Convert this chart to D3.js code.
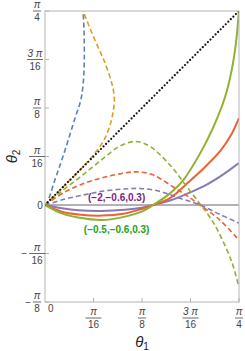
<!DOCTYPE html>
<html><head><meta charset="utf-8">
<script src="https://cdn.jsdelivr.net/npm/d3@7"></script>
<style>body{margin:0;background:#fff}svg{display:block}</style>
</head><body>
<script>
// ---- data (radians) ----
const blueDashX   = [0,0.008,0.040,0.068,0.094,0.122,0.145,0.155,0.159,0.158,0.154];
const blueDashY   = [0,0.008,0.101,0.182,0.263,0.353,0.425,0.495,0.587,0.709,0.785];
const orangeDashX = [0,0.069,0.142,0.202,0.243,0.267,0.277,0.281,0.278,0.270,0.243,0.202,0.154];
const orangeDashY = [0,0.069,0.142,0.210,0.271,0.336,0.385,0.421,0.457,0.494,0.575,0.668,0.785];
const greenDashX  = [0,0.069,0.142,0.223,0.304,0.368,0.425,0.506,0.574,0.631,0.675,0.702,0.756,0.785];
const greenDashY  = [0,0.057,0.113,0.178,0.239,0.257,0.237,0.162,0.074,0,-0.061,-0.108,-0.230,-0.332];
const redDashX    = [0,0.081,0.162,0.243,0.324,0.372,0.437,0.518,0.574,0.628,0.708,0.785];
const redDashY    = [0,0.053,0.089,0.113,0.130,0.134,0.122,0.074,0.038,0,-0.061,-0.142];
const purpleDashX = [0,0.081,0.162,0.243,0.324,0.385,0.466,0.547,0.628,0.708,0.785];
const purpleDashY = [0,0.024,0.042,0.057,0.065,0.067,0.055,0.027,0,-0.038,-0.073];
const greenSolidX = [0,0.068,0.135,0.230,0.324,0.391,0.438,0.506,0.560,0.628,0.681,0.729,0.756,0.773,0.785];
const greenSolidY = [0,-0.034,-0.051,-0.061,-0.047,-0.027,0,0.047,0.101,0.209,0.314,0.437,0.547,0.655,0.785];
const redSolidX   = [0,0.068,0.135,0.230,0.324,0.391,0.438,0.506,0.579,0.648,0.713,0.753,0.785];
const redSolidY   = [0,-0.027,-0.038,-0.043,-0.034,-0.016,0,0.028,0.091,0.154,0.223,0.283,0.352];
const purpleSolidX= [0,0.068,0.135,0.230,0.324,0.391,0.438,0.506,0.574,0.641,0.708,0.785];
const purpleSolidY= [0,-0.013,-0.021,-0.024,-0.019,-0.011,0,0.018,0.045,0.075,0.115,0.170];
const diagX = [0, Math.PI/4];
const diagY = [0, Math.PI/4];

const xTickVals = [Math.PI/16, Math.PI/8, 3*Math.PI/16, Math.PI/4];
const xTickNum  = ["π","π","3 π","π"];
const xTickDen  = ["16","8","16","4"];
const yTickVals = [-Math.PI/8, -Math.PI/16, Math.PI/16, Math.PI/8, 3*Math.PI/16, Math.PI/4];
const yTickSign = ["−","−","","","",""];
const yTickNum  = ["π","π","π","π","3 π","π"];
const yTickDen  = ["8","16","16","8","16","4"];

const labels = [
  {text:"(−2,−0.6,0.3)", x:0.290, y:0.018, color:"#7f1a86"},
  {text:"(−0.5,−0.6,0.3)", x:0.290, y:-0.112, color:"#22a322"}
];

// ---- drawing ----
const W=245,H=351;
const svg=d3.select("body").append("svg").attr("width",W).attr("height",H);
const x=d3.scaleLinear().domain([0,Math.PI/4]).range([45,239]);
const y=d3.scaleLinear().domain([-Math.PI/8,Math.PI/4]).range([302,11]);

svg.append("clipPath").attr("id","clip").append("rect")
  .attr("x",x(0)).attr("y",y(Math.PI/4)).attr("width",x(Math.PI/4)-x(0)).attr("height",y(-Math.PI/8)-y(Math.PI/4));

const frameC="#b3b3b3";
// zero line
svg.append("line").attr("x1",x(0)).attr("x2",x(Math.PI/4)).attr("y1",y(0)).attr("y2",y(0))
  .attr("stroke","#999").attr("stroke-width",1.3);

const line=d3.line().x(d=>x(d[0])).y(d=>y(d[1])).curve(d3.curveCatmullRom.alpha(0.5));
const g=svg.append("g").attr("clip-path","url(#clip)");
const series=[
  [purpleSolidX,purpleSolidY,"#8778b6",null,2],
  [redSolidX,redSolidY,"#eb6235",null,2],
  [greenSolidX,greenSolidY,"#8fb131",null,2],
  [purpleDashX,purpleDashY,"#8778b6","5,3",1.6],
  [redDashX,redDashY,"#eb6235","5,3",1.6],
  [greenDashX,greenDashY,"#8fb131","5,3",1.6],
  [blueDashX,blueDashY,"#5e81b5","5,3",1.6],
  [orangeDashX,orangeDashY,"#e19c24","5,3",1.6]
];
series.forEach(s=>{
  g.append("path").datum(d3.zip(s[0],s[1])).attr("d",line)
    .attr("fill","none").attr("stroke",s[2]).attr("stroke-width",s[4])
    .attr("stroke-dasharray",s[3]);
});
g.append("path").datum(d3.zip(diagX,diagY)).attr("d",d3.line().x(d=>x(d[0])).y(d=>y(d[1])))
  .attr("fill","none").attr("stroke","#111").attr("stroke-width",2.2)
  .attr("stroke-linecap","round").attr("stroke-dasharray","0,3.6");

// frame
svg.append("rect").attr("x",x(0)).attr("y",y(Math.PI/4)).attr("width",x(Math.PI/4)-x(0))
  .attr("height",y(-Math.PI/8)-y(Math.PI/4)).attr("fill","none").attr("stroke",frameC).attr("stroke-width",1);

// ticks
const tc="#444", ff="Liberation Sans, Arial, sans-serif";
xTickVals.forEach((v,i)=>{
  const px=x(v);
  svg.append("line").attr("x1",px).attr("x2",px).attr("y1",y(-Math.PI/8)).attr("y2",y(-Math.PI/8)-4).attr("stroke",frameC);
  svg.append("text").attr("x",px).attr("y",315).attr("text-anchor","middle").attr("font-family",ff)
    .attr("font-size",10).attr("fill",tc).attr("font-style","italic").text(xTickNum[i]);
  const w = xTickDen[i].length>1 || xTickNum[i].length>1 ? 16 : 8;
  svg.append("line").attr("x1",px-w/2).attr("x2",px+w/2).attr("y1",318).attr("y2",318).attr("stroke",tc).attr("stroke-width",0.8);
  svg.append("text").attr("x",px).attr("y",328).attr("text-anchor","middle").attr("font-family",ff)
    .attr("font-size",10).attr("fill",tc).text(xTickDen[i]);
});
svg.append("text").attr("x",48).attr("y",312).attr("font-family",ff).attr("font-size",10).attr("fill",tc).text("0");

yTickVals.forEach((v,i)=>{
  const py=y(v);
  svg.append("line").attr("x1",x(0)).attr("x2",x(0)+4).attr("y1",py).attr("y2",py).attr("stroke",frameC);
  const cx = yTickNum[i].length>1 ? 35 : 37;
  const w = yTickDen[i].length>1 || yTickNum[i].length>1 ? 16 : 8;
  svg.append("text").attr("x",cx).attr("y",py-3).attr("text-anchor","middle").attr("font-family",ff)
    .attr("font-size",10).attr("fill",tc).attr("font-style","italic").text(yTickNum[i]);
  svg.append("line").attr("x1",cx-w/2).attr("x2",cx+w/2).attr("y1",py).attr("y2",py).attr("stroke",tc).attr("stroke-width",0.8);
  svg.append("text").attr("x",cx).attr("y",py+10).attr("text-anchor","middle").attr("font-family",ff)
    .attr("font-size",10).attr("fill",tc).text(yTickDen[i]);
  if(yTickSign[i]) svg.append("text").attr("x",cx-w/2-2).attr("y",py+3.5).attr("text-anchor","end")
    .attr("font-family",ff).attr("font-size",10).attr("fill",tc).text(yTickSign[i]);
});
svg.append("text").attr("x",40).attr("y",y(0)+3.5).attr("text-anchor","middle").attr("font-family",ff)
  .attr("font-size",10).attr("fill",tc).text("0");

// axis titles
const t1=svg.append("text").attr("x",142).attr("y",347).attr("text-anchor","middle").attr("font-family",ff).attr("fill","#222");
t1.append("tspan").attr("font-style","italic").attr("font-size",15).text("θ");
t1.append("tspan").attr("font-size",10).attr("dy",3).text("1");
const t2=svg.append("text").attr("transform",`translate(17,${y(Math.PI/16)}) rotate(-90)`).attr("text-anchor","middle").attr("font-family",ff).attr("fill","#222");
t2.append("tspan").attr("font-style","italic").attr("font-size",15).text("θ");
t2.append("tspan").attr("font-size",10).attr("dy",3).text("2");

labels.forEach(l=>{
  svg.append("text").attr("x",x(l.x)).attr("y",y(l.y)).attr("text-anchor","middle").attr("font-family",ff)
    .attr("font-size",10).attr("font-weight","bold").attr("fill",l.color).text(l.text);
});
</script>
</body></html>
